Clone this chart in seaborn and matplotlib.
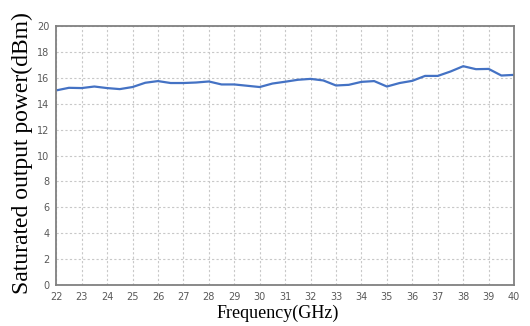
import pandas as pd
import seaborn as sns
import matplotlib.pyplot as plt

# data (0.5 GHz steps)
freq = [22, 22.5, 23, 23.5, 24, 24.5, 25, 25.5, 26, 26.5, 27, 27.5, 28, 28.5,
        29, 29.5, 30, 30.5, 31, 31.5, 32, 32.5, 33, 33.5, 34, 34.5, 35, 35.5,
        36, 36.5, 37, 37.5, 38, 38.5, 39, 39.5, 40]
psat = [15.03, 15.23, 15.21, 15.33, 15.21, 15.13, 15.29, 15.62, 15.75, 15.60,
        15.60, 15.64, 15.72, 15.49, 15.49, 15.39, 15.29, 15.56, 15.70, 15.85,
        15.92, 15.80, 15.41, 15.46, 15.69, 15.75, 15.33, 15.60, 15.77, 16.15,
        16.15, 16.49, 16.90, 16.67, 16.69, 16.18, 16.23]
xticks = list(range(22, 41))
yticks = list(range(0, 21, 2))

df = pd.DataFrame({'freq': freq, 'psat': psat})

sns.set_theme(style="white")
fig = plt.figure(figsize=(5.30, 3.26), dpi=100)
ax = fig.add_axes([0.106, 0.126, 0.864, 0.794])

sns.lineplot(data=df, x='freq', y='psat', color='#4472C4', linewidth=1.6, ax=ax)

ax.set_xlim(22, 40)
ax.set_ylim(0, 20)
ax.set_xticks(xticks)
ax.set_yticks(yticks)
ax.tick_params(axis='both', length=0, labelsize=7, labelcolor='#595959', pad=5)
ax.grid(True, color='#c8c8c8', linestyle=(0, (2, 2)), linewidth=0.8)

for s in ax.spines.values():
    s.set_color('#808080')
    s.set_linewidth(1.3)

ax.set_xlabel('Frequency(GHz)', family='Liberation Serif', fontsize=13,
              color='black', labelpad=4)
ax.xaxis.set_label_coords(0.483, -0.075)
ax.set_ylabel('Saturated output power(dBm)', family='Liberation Serif',
              fontsize=17, color='black')
ax.yaxis.set_label_coords(-0.05, 0.51)

plt.savefig('out.png', dpi=100)
